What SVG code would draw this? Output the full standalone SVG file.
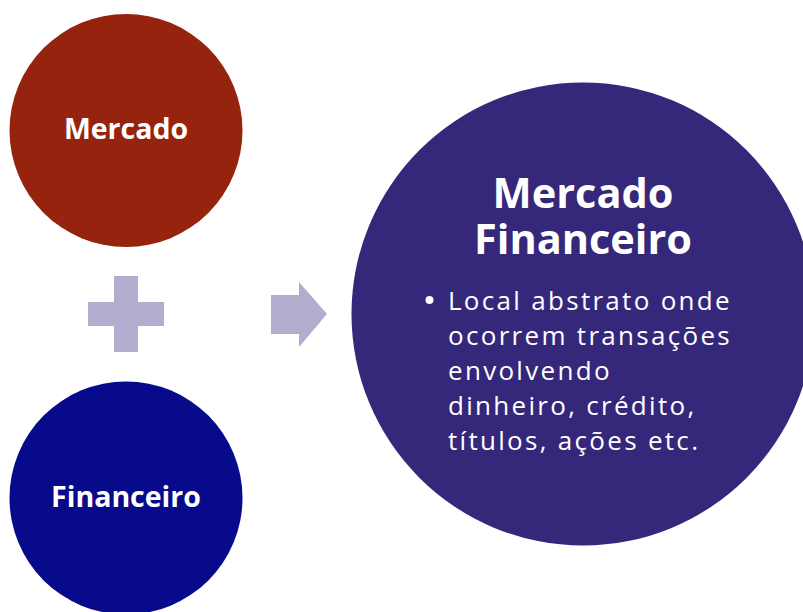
<svg xmlns="http://www.w3.org/2000/svg" width="803" height="612" viewBox="0 0 803 612">
<style>
.lbl{font-family:"Open Sans","Noto Sans","Liberation Sans",sans-serif;font-weight:700;fill:#fff;text-anchor:middle;font-variant-ligatures:none}
.body{font-family:"Open Sans","Noto Sans","Liberation Sans",sans-serif;font-weight:400;fill:#fff;font-size:26px;letter-spacing:2.3px;font-variant-ligatures:none}
.sym{fill:#B1ADCF}
</style>
<rect width="803" height="612" fill="#fff"/>
<g id="mercado">
<circle cx="126" cy="130.5" r="116.5" fill="#96230E"/>
<text class="lbl" x="126" y="139" font-size="28.5">Mercado</text>
</g>
<g id="financeiro">
<circle cx="126" cy="498" r="116.5" fill="#070A8A"/>
<text class="lbl" x="126" y="507" font-size="28.5">Financeiro</text>
</g>
<g id="connectors">
<path class="sym" d="M114 276H138V302H164V326H138V352H114V326H88V302H114Z"/>
<path class="sym" d="M271 295H299V282L327 314L299 347V334H271Z"/>
</g>
<g id="mercado-financeiro">
<circle cx="583" cy="314" r="231.5" fill="#35277A"/>
<text class="lbl" font-size="41.5"><tspan x="583" y="208">Mercado</tspan><tspan x="583" y="254">Financeiro</tspan></text>
<circle cx="429.5" cy="300" r="4" fill="#fff"/>
<text class="body"><tspan x="448" y="310">Local abstrato onde</tspan><tspan x="448" y="345">ocorrem transações</tspan><tspan x="448" y="380">envolvendo</tspan><tspan x="448" y="415">dinheiro, crédito,</tspan><tspan x="448" y="450">títulos, ações etc.</tspan></text>
</g>
</svg>
